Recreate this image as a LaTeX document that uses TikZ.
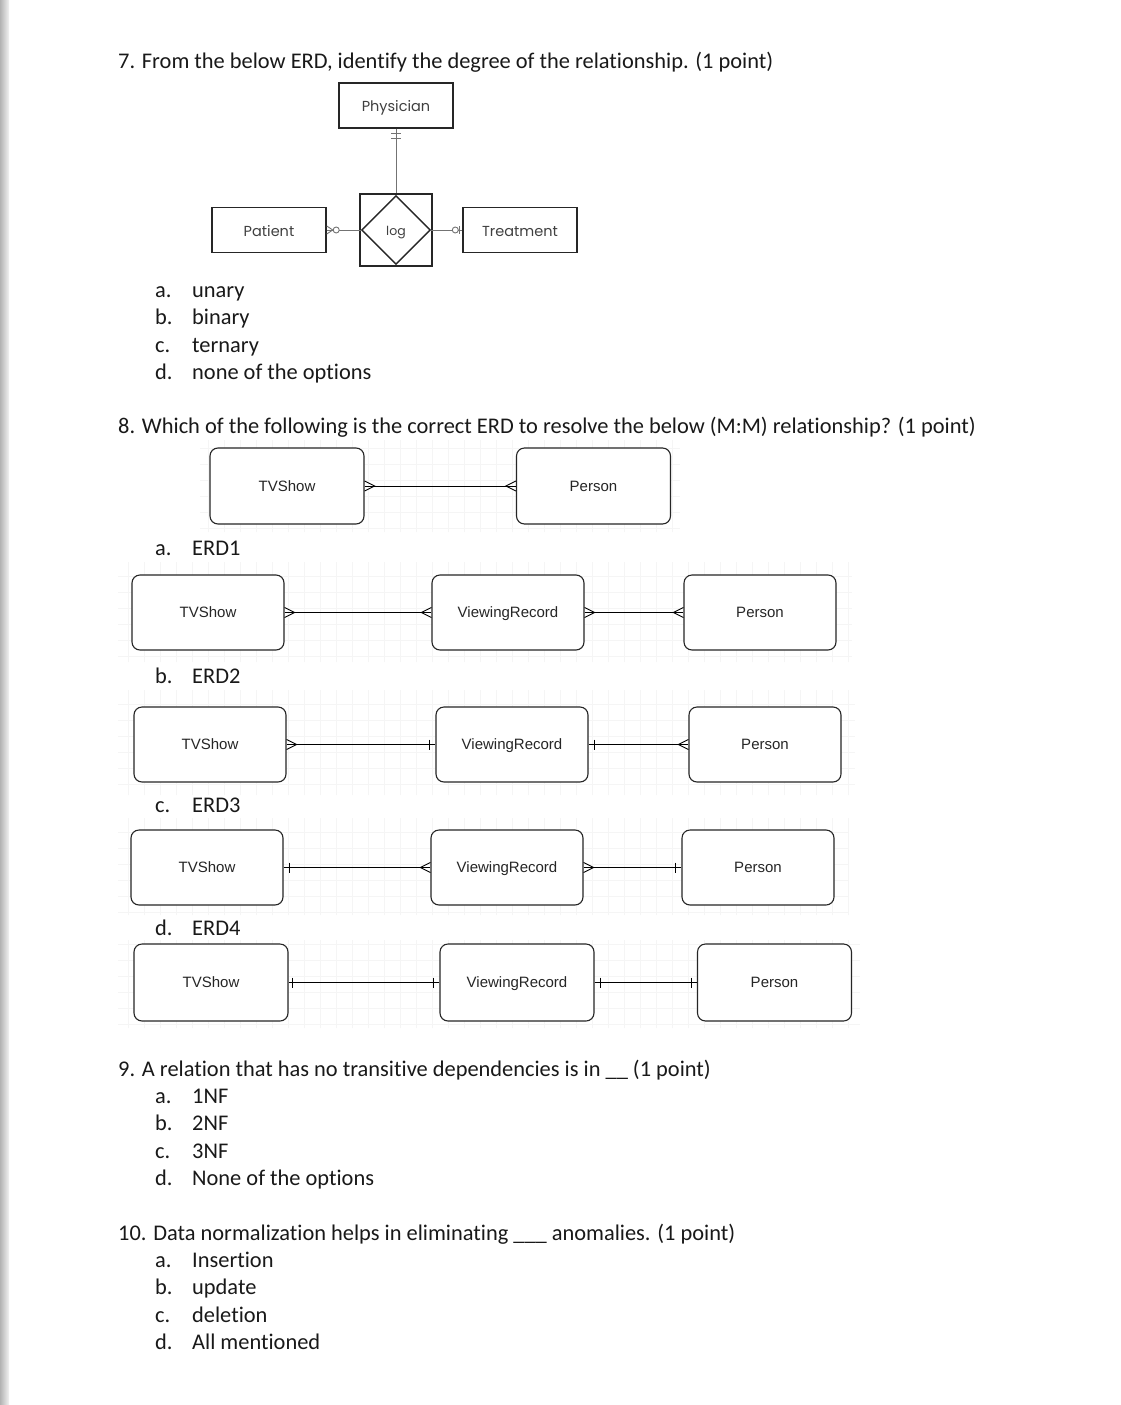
\documentclass[tikz,border=0pt]{standalone}
\usepackage{fontspec}
\usetikzlibrary{shapes.geometric}
\setmainfont[Ligatures={NoCommon}]{Carlito}
\newfontfamily\erfont{Liberation Sans}
\newfontfamily\gfont{Poppins}
\begin{document}
\begin{tikzpicture}[x=1pt,y=-1pt,
  qtext/.style={anchor=base west, inner sep=0pt, text=black!90, font=\fontsize{22.4}{27}\selectfont},
  erbox/.style={draw=black!85, fill=white, rounded corners=8pt, minimum width=152pt, minimum height=75pt, line width=1.1pt, inner sep=0pt, text=black!85, text height=11pt, text depth=1pt, font=\erfont\fontsize{15}{18}\selectfont},
  gbox/.style={draw=black!85, fill=white, line width=1.4pt, minimum width=114pt, minimum height=45pt, inner sep=0pt, text=black!75, text height=14pt, text depth=2pt, font=\gfont\fontsize{14.5}{17}\selectfont},
  rel/.style={draw=black, line width=0.9pt},
  glink/.style={draw=black!55, line width=0.9pt},
  gridc/.style={draw=black!4, line width=0.5pt}
]
\useasboundingbox (0,0) rectangle (1120,1405);
\fill[white] (0,0) rectangle (1120,1405);
\shade[left color=black!30, right color=black!5] (0,0) rectangle (9,1405);

% ---------- Question 7 ----------
\node[qtext] (q7) at (118,68) {7. From the below ERD, identify the degree of the relationship. (1 point)};

\node[gbox] (phys) at (396,105.5) {Physician};
\node[gbox] (pat) at (269,230) {Patient};
\node[gbox] (treat) at (520,230) {Treatment};
\node[draw=black!85, line width=1.4pt, minimum width=72pt, minimum height=72pt, inner sep=0pt] (logbox) at (396,230) {};
\node[draw=black!85, line width=1.4pt, diamond, shape aspect=1, minimum width=69pt, minimum height=69pt, inner sep=0pt, text height=11pt, text depth=1pt, font=\gfont\fontsize{12.5}{15}\selectfont, text=black!75] (log) at (396,230) {log};
\draw[glink] (phys.south) -- (logbox.north);
\draw[glink] ([xshift=-5pt,yshift=-5pt]phys.south) -- ([xshift=5pt,yshift=-5pt]phys.south);
\draw[glink] ([xshift=-5pt,yshift=-10pt]phys.south) -- ([xshift=5pt,yshift=-10pt]phys.south);
\draw[glink] (pat.east) -- (log.west);
\draw[glink] ([yshift=4pt]pat.east) -- ([xshift=6pt]pat.east) -- ([yshift=-4pt]pat.east);
\draw[glink, fill=white] ([xshift=9.5pt]pat.east) circle (3pt);
\draw[glink] (log.east) -- (treat.west);
\draw[glink, fill=white] ([xshift=-7pt]treat.west) circle (3pt);
\draw[glink] ([xshift=-2.5pt,yshift=4pt]treat.west) -- ([xshift=-2.5pt,yshift=-4pt]treat.west);

\node[qtext] (a7l) at (155,297) {a.};  \node[qtext] (a7) at (192,297) {unary};
\node[qtext] (b7l) at (155,324) {b.};  \node[qtext] (b7) at (192,324) {binary};
\node[qtext] (c7l) at (155,352) {c.};  \node[qtext] (c7) at (192,352) {ternary};
\node[qtext] (d7l) at (155,379) {d.};  \node[qtext] (d7) at (192,379) {none of the options};

% ---------- Question 8 ----------
\node[qtext] (q8) at (118,433) {8. Which of the following is the correct ERD to resolve the below (M:M) relationship? (1 point)};

\draw[gridc, step=16pt] (200,440) grid (680,532);
\node[erbox, minimum width=154pt, minimum height=76pt] (tv0) at (287,486) {TVShow};
\node[erbox, minimum width=154pt, minimum height=76pt] (pe0) at (593.5,486) {Person};
\draw[rel] (tv0.east) -- (pe0.west);
\draw[rel] ([yshift=5pt]tv0.east) -- ([xshift=10pt]tv0.east) -- ([yshift=-5pt]tv0.east);
\draw[rel] ([yshift=5pt]pe0.west) -- ([xshift=-10pt]pe0.west) -- ([yshift=-5pt]pe0.west);

% ERD1
\node[qtext] (a8l) at (155,555) {a.};  \node[qtext] (a8) at (192,555) {ERD1};
\draw[gridc, step=16pt] (118,562) grid (852,662);
\node[erbox] (tv1) at (208,612.5) {TVShow};
\node[erbox] (vr1) at (508,612.5) {ViewingRecord};
\node[erbox] (pe1) at (760,612.5) {Person};
\draw[rel] (tv1.east) -- (vr1.west);
\draw[rel] (vr1.east) -- (pe1.west);
\draw[rel] ([yshift=5pt]tv1.east) -- ([xshift=10pt]tv1.east) -- ([yshift=-5pt]tv1.east);
\draw[rel] ([yshift=5pt]vr1.west) -- ([xshift=-10pt]vr1.west) -- ([yshift=-5pt]vr1.west);
\draw[rel] ([yshift=5pt]vr1.east) -- ([xshift=10pt]vr1.east) -- ([yshift=-5pt]vr1.east);
\draw[rel] ([yshift=5pt]pe1.west) -- ([xshift=-10pt]pe1.west) -- ([yshift=-5pt]pe1.west);

% ERD2
\node[qtext] (b8l) at (155,683) {b.};  \node[qtext] (b8) at (192,683) {ERD2};
\draw[gridc, step=16pt] (118,690) grid (855,795);
\node[erbox] (tv2) at (210,744.5) {TVShow};
\node[erbox] (vr2) at (512,744.5) {ViewingRecord};
\node[erbox] (pe2) at (765,744.5) {Person};
\draw[rel] (tv2.east) -- (vr2.west);
\draw[rel] (vr2.east) -- (pe2.west);
\draw[rel] ([yshift=5pt]tv2.east) -- ([xshift=10pt]tv2.east) -- ([yshift=-5pt]tv2.east);
\draw[rel] ([xshift=-6pt,yshift=5pt]vr2.west) -- ([xshift=-6pt,yshift=-5pt]vr2.west);
\draw[rel] ([xshift=6pt,yshift=5pt]vr2.east) -- ([xshift=6pt,yshift=-5pt]vr2.east);
\draw[rel] ([yshift=5pt]pe2.west) -- ([xshift=-10pt]pe2.west) -- ([yshift=-5pt]pe2.west);

% ERD3
\node[qtext] (c8l) at (155,812) {c.};  \node[qtext] (c8) at (192,812) {ERD3};
\draw[gridc, step=16pt] (118,818) grid (848,915);
\node[erbox] (tv3) at (207,867.5) {TVShow};
\node[erbox] (vr3) at (507,867.5) {ViewingRecord};
\node[erbox] (pe3) at (758,867.5) {Person};
\draw[rel] (tv3.east) -- (vr3.west);
\draw[rel] (vr3.east) -- (pe3.west);
\draw[rel] ([xshift=6pt,yshift=5pt]tv3.east) -- ([xshift=6pt,yshift=-5pt]tv3.east);
\draw[rel] ([yshift=5pt]vr3.west) -- ([xshift=-10pt]vr3.west) -- ([yshift=-5pt]vr3.west);
\draw[rel] ([yshift=5pt]vr3.east) -- ([xshift=10pt]vr3.east) -- ([yshift=-5pt]vr3.east);
\draw[rel] ([xshift=-6pt,yshift=5pt]pe3.west) -- ([xshift=-6pt,yshift=-5pt]pe3.west);

% ERD4
\node[qtext] (d8l) at (155,935) {d.};  \node[qtext] (d8) at (192,935) {ERD4};
\draw[gridc, step=16pt] (118,940) grid (860,1028);
\node[erbox, minimum width=154pt, minimum height=77pt] (tv4) at (211,982.5) {TVShow};
\node[erbox, minimum width=154pt, minimum height=77pt] (vr4) at (517,982.5) {ViewingRecord};
\node[erbox, minimum width=154pt, minimum height=77pt] (pe4) at (774.5,982.5) {Person};
\draw[rel] (tv4.east) -- (vr4.west);
\draw[rel] (vr4.east) -- (pe4.west);
\draw[rel] ([xshift=4pt,yshift=5pt]tv4.east) -- ([xshift=4pt,yshift=-5pt]tv4.east);
\draw[rel] ([xshift=-6pt,yshift=5pt]vr4.west) -- ([xshift=-6pt,yshift=-5pt]vr4.west);
\draw[rel] ([xshift=6pt,yshift=5pt]vr4.east) -- ([xshift=6pt,yshift=-5pt]vr4.east);
\draw[rel] ([xshift=-6pt,yshift=5pt]pe4.west) -- ([xshift=-6pt,yshift=-5pt]pe4.west);

% ---------- Question 9 ----------
\node[qtext] (q9) at (118,1076) {9. A relation that has no transitive dependencies is in \_\_ (1 point)};
\node[qtext] (a9l) at (155,1103) {a.};  \node[qtext] (a9) at (192,1103) {1NF};
\node[qtext] (b9l) at (155,1130) {b.};  \node[qtext] (b9) at (192,1130) {2NF};
\node[qtext] (c9l) at (155,1158) {c.};  \node[qtext] (c9) at (192,1158) {3NF};
\node[qtext] (d9l) at (155,1185) {d.};  \node[qtext] (d9) at (192,1185) {None of the options};

% ---------- Question 10 ----------
\node[qtext] (q10) at (118,1240) {10. Data normalization helps in eliminating \_\_\_ anomalies. (1 point)};
\node[qtext] (a10l) at (155,1267) {a.};  \node[qtext] (a10) at (192,1267) {Insertion};
\node[qtext] (b10l) at (155,1294) {b.};  \node[qtext] (b10) at (192,1294) {update};
\node[qtext] (c10l) at (155,1322) {c.};  \node[qtext] (c10) at (192,1322) {deletion};
\node[qtext] (d10l) at (155,1349) {d.};  \node[qtext] (d10) at (192,1349) {All mentioned};
\end{tikzpicture}
\end{document}
